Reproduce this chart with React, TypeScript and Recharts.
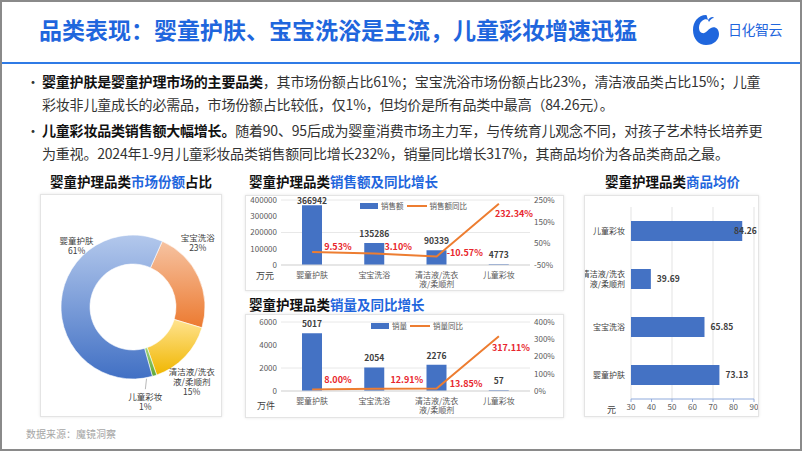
import React from "react";
import {
  PieChart,
  Pie,
  Cell,
  ComposedChart,
  BarChart,
  Bar,
  Line,
  XAxis,
  YAxis,
  CartesianGrid,
  LabelList,
} from "recharts";

// ---- data ----
const categories = ["婴童护肤", "宝宝洗浴", "清洁液/洗衣\n液/柔顺剂", "儿童彩妆"];
const shareValues = [61, 23, 15, 1];
const salesValues = [366942, 135286, 90339, 4773];
const salesYoY = [9.53, 3.1, -10.57, 232.34];
const volumeValues = [5017, 2054, 2276, 57];
const volumeYoY = [8.0, 12.91, 13.85, 317.11];
const avgPrice = [73.13, 65.85, 39.69, 84.26];

const salesTicks = [0, 100000, 200000, 300000, 400000];
const salesYoYTicks = [-50, 0, 50, 100, 150, 200, 250];
const volumeTicks = [0, 2000, 4000, 6000];
const volumeYoYTicks = [0, 100, 200, 300, 400];
const priceTicks = [30, 40, 50, 60, 70, 80, 90];

// pie is drawn clockwise starting from 宝宝洗浴 (like the Excel original)
const pieOrder = [1, 2, 3, 0];
const pieData = pieOrder.map((i) => ({ name: categories[i], value: shareValues[i] }));
const salesData = categories.map((name, i) => ({ name, value: salesValues[i], yoy: salesYoY[i] }));
const volumeData = categories.map((name, i) => ({ name, value: volumeValues[i], yoy: volumeYoY[i] }));
const priceData = categories.map((name, i) => ({ name, value: avgPrice[i] }));

const FONT = '"Noto Sans CJK SC", "Noto Sans", sans-serif';
const BLUE = "#4472c4";
const ORANGE = "#ed7d31";
const TITLE_BLUE = "#1f66dd";
const RED = "#e8262d";

const pieGrad = [
  ["#f6c3a2", "#ec7a30"],
  ["#ffe38f", "#f0b600"],
  ["#9fd37a", "#5fa838"],
  ["#b3c8ec", "#4170c4"],
];
// label angle nudge / extra radius per slice (pie order)
const pieLabelNudge = [20, -8, -10, -43];
const pieLabelExtra = [19, 23, 24, 11];

const renderPieLabel = (p: any) => {
  const { cx, cy, midAngle, outerRadius, index, name, value } = p;
  const a = ((midAngle + pieLabelNudge[index]) * Math.PI) / 180;
  const r = outerRadius + pieLabelExtra[index];
  const x = cx + r * Math.cos(a);
  const y = cy - r * Math.sin(a);
  const lines = [...String(name).split("\n"), `${value}%`];
  const top = y - ((lines.length - 1) * 10) / 2;
  const m = (midAngle * Math.PI) / 180;
  return (
    <g>
      {index === 2 && (
        <line
          x1={cx + outerRadius * Math.cos(m) - 8}
          y1={cy - outerRadius * Math.sin(m) + 3}
          x2={x}
          y2={top - 8}
          stroke="#a6a6a6"
          strokeWidth={0.8}
        />
      )}
      <text x={x} y={top + 3} textAnchor="middle" fontSize={8.5} fill="#404040" fontFamily={FONT}>
        {lines.map((l, i) => (
          <tspan key={i} x={x} dy={i ? 10 : 0}>
            {l}
          </tspan>
        ))}
      </text>
    </g>
  );
};

const CatTick = (p: any) => {
  const { x, y, payload } = p;
  const lines = String(payload.value).split("\n");
  return (
    <text x={x} y={y + 12.5} textAnchor="middle" fontSize={8} fill="#595959" fontFamily={FONT}>
      {lines.map((l, i) => (
        <tspan key={i} x={x} dy={i ? 9 : 0}>
          {l}
        </tspan>
      ))}
    </text>
  );
};

const SideCatTick = (p: any) => {
  const { x, y, payload } = p;
  const lines = String(payload.value).split("\n");
  const top = y - ((lines.length - 1) * 10) / 2 + 3;
  return (
    <text x={x} y={top} textAnchor="end" fontSize={8} fill="#404040" fontFamily={FONT}>
      {lines.map((l, i) => (
        <tspan key={i} x={x} dy={i ? 10 : 0}>
          {l}
        </tspan>
      ))}
    </text>
  );
};

// bar value above the bar, kept inside the chart at the top
const barValueLabel = (p: any) => {
  const { x, y, width, value } = p;
  const cy = Math.max(y - 9, 4.5);
  return (
    <text x={x + width / 2} y={cy + 3} textAnchor="middle" fontSize={8.5} fontWeight="bold" fill="#404040" fontFamily={FONT}>
      {value}
    </text>
  );
};

const yoyLabel = (offs: number[][]) => (p: any) => {
  const { x, y, value, index } = p;
  const o = offs[index];
  return (
    <text x={x + o[0]} y={y + o[1] + 3} fontSize={9} fontWeight="bold" fill={RED} fontFamily={FONT}>
      {Number(value).toFixed(2)}%
    </text>
  );
};

const priceLabel = (p: any) => {
  const { x, y, width, height, value } = p;
  const txt = Number(value).toFixed(2);
  const w = 22;
  const tx = Math.min(x + width + 6, 171 - w);
  return (
    <text x={tx} y={y + height / 2 + 3} fontSize={8.5} fontWeight="bold" fill="#404040" fontFamily={FONT}>
      {txt}
    </text>
  );
};

const LegendBox = ({ barName, lineName, left, top }: any) => (
  <div
    style={{
      position: "absolute",
      left,
      top,
      display: "flex",
      alignItems: "center",
      fontSize: 7.5,
      lineHeight: "10px",
      color: "#595959",
      whiteSpace: "nowrap",
    }}
  >
    <span style={{ display: "inline-block", width: 18, height: 6, background: BLUE, marginRight: 3 }} />
    {barName}
    <span style={{ display: "inline-block", width: 20, height: 2, background: ORANGE, margin: "0 3px 0 3px" }} />
    {lineName}
  </div>
);

const frame: React.CSSProperties = {
  position: "absolute",
  background: "#fff",
  border: "1px solid #e4e4e4",
  boxShadow: "0 0 3px rgba(0,0,0,0.10)",
  boxSizing: "border-box",
};

const ChartTitle = ({ x, y, pre, hi, post }: any) => (
  <div
    style={{
      position: "absolute",
      left: x,
      top: y,
      fontSize: 13.5,
      fontWeight: "bold",
      color: "#111",
      whiteSpace: "nowrap",
      lineHeight: "18px",
    }}
  >
    {pre}
    <span style={{ color: TITLE_BLUE }}>{hi}</span>
    {post}
  </div>
);

const axisTick = { fontSize: 8, fill: "#595959", fontFamily: FONT };
const svgVisible = { overflow: "visible" } as React.CSSProperties;

export default function App() {
  return (
    <div
      style={{
        position: "fixed",
        left: 0,
        top: 0,
        width: 802,
        height: 451,
        background: "#fff",
        border: "2px solid #8a8a8a",
        boxSizing: "border-box",
        fontFamily: FONT,
        overflow: "hidden",
      }}
    >
      {/* header */}
      <div
        style={{
          position: "absolute",
          left: 37,
          top: 12,
          fontSize: 23,
          fontWeight: "bold",
          color: TITLE_BLUE,
          whiteSpace: "nowrap",
          lineHeight: "30px",
        }}
      >
        品类表现：婴童护肤、宝宝洗浴是主流，儿童彩妆增速迅猛
      </div>
      <svg style={{ position: "absolute", left: 688, top: 10 }} width={32} height={36} viewBox="0 0 32 36">
        <path d="M16 3 C8 3 3 10 3 18 C3 27 9 33 16 33 C24 33 29 28 29 22 C29 17 25 14 21 16 C17 18 16 22 12 21 C8 20 8 12 12 9 C14 7 17 7 18 8 C17 5 17 3 16 3 Z" fill="#1f66dd" />
        <path d="M18 8 C20 5 23 4 24 6 C22 6 20 8 19 10 Z" fill="#1f66dd" />
      </svg>
      <div
        style={{
          position: "absolute",
          left: 726,
          top: 17,
          fontSize: 14,
          color: TITLE_BLUE,
          whiteSpace: "nowrap",
          lineHeight: "20px",
          letterSpacing: -0.5,
        }}
      >
        日化智云
      </div>
      <div style={{ position: "absolute", left: 0, top: 60, width: 800, height: 2, background: "#2f7be6" }} />

      {/* bullets */}
      <div
        style={{
          position: "absolute",
          left: 24,
          top: 68,
          fontSize: 14,
          color: "#333",
          lineHeight: "23px",
          whiteSpace: "nowrap",
          letterSpacing: -0.2,
        }}
      >
        <div>
          <span style={{ display: "inline-block", width: 16 }}>•</span>
          <b style={{ color: "#111" }}>婴童护肤是婴童护理市场的主要品类</b>，其市场份额占比61%；宝宝洗浴市场份额占比23%，清洁液品类占比15%；儿童
        </div>
        <div style={{ paddingLeft: 16 }}>彩妆非儿童成长的必需品，市场份额占比较低，仅1%，但均价是所有品类中最高（84.26元）。</div>
        <div style={{ marginTop: 3 }}>
          <span style={{ display: "inline-block", width: 16 }}>•</span>
          <b style={{ color: "#111" }}>儿童彩妆品类销售额大幅增长。</b>随着90、95后成为婴童消费市场主力军，与传统育儿观念不同，对孩子艺术特长培养更
        </div>
        <div style={{ paddingLeft: 16 }}>为重视。2024年1-9月儿童彩妆品类销售额同比增长232%，销量同比增长317%，其商品均价为各品类商品之最。</div>
      </div>

      {/* pie */}
      <ChartTitle x={48} y={170} pre="婴童护理品类" hi="市场份额" post="占比" />
      <div style={{ ...frame, left: 38, top: 192, width: 182, height: 223 }}>
        <PieChart width={180} height={221} margin={{ top: 0, right: 0, bottom: 0, left: 0 }}>
          <defs>
            {pieGrad.map((g, i) => (
              <linearGradient key={i} id={`pg${i}`} x1="0" y1="0" x2="0" y2="1">
                <stop offset="0%" stopColor={g[0]} />
                <stop offset="100%" stopColor={g[1]} />
              </linearGradient>
            ))}
          </defs>
          <Pie
            data={pieData}
            dataKey="value"
            nameKey="name"
            cx={92}
            cy={112}
            innerRadius={43}
            outerRadius={72}
            startAngle={66}
            endAngle={-294}
            stroke="#ffffff"
            strokeWidth={0.6}
            label={renderPieLabel}
            labelLine={false}
            isAnimationActive={false}
          >
            {pieData.map((_, i) => (
              <Cell key={i} fill={`url(#pg${i})`} />
            ))}
          </Pie>
        </PieChart>
      </div>

      {/* sales */}
      <ChartTitle x={247} y={170} pre="婴童护理品类" hi="销售额及同比增长" post="" />
      <div style={{ ...frame, left: 243, top: 193, width: 319, height: 96 }}>
        <ComposedChart style={svgVisible} width={317} height={94} data={salesData} margin={{ top: 4, right: 0, bottom: 0, left: 0 }} barSize={20}>
          <CartesianGrid vertical={false} stroke="#e8e8e8" yAxisId="left" />
          <XAxis dataKey="name" interval={0} tick={<CatTick />} tickLine={false} tickSize={0} tickMargin={0} axisLine={{ stroke: "#d9d9d9" }} height={25} />
          <YAxis yAxisId="left" domain={[0, 400000]} allowDataOverflow ticks={salesTicks} width={35} tick={axisTick} tickLine={false} axisLine={false} tickSize={2} tickMargin={2} />
          <YAxis yAxisId="right" orientation="right" domain={[-50, 250]} allowDataOverflow ticks={salesYoYTicks} tickFormatter={(v) => `${v}%`} width={33} tick={axisTick} tickLine={false} axisLine={false} tickSize={2} tickMargin={2} />
          <Bar yAxisId="left" dataKey="value" fill={BLUE} isAnimationActive={false}>
            <LabelList dataKey="value" content={barValueLabel} />
          </Bar>
          <Line yAxisId="right" type="linear" dataKey="yoy" stroke={ORANGE} strokeWidth={2} dot={false} isAnimationActive={false}>
            <LabelList dataKey="yoy" content={yoyLabel([[12, -5], [10, -6], [10, -3], [-4, 10]])} />
          </Line>
        </ComposedChart>
        <LegendBox barName="销售额" lineName="销售额同比" left={114} top={5} />
        <div style={{ position: "absolute", left: 10, top: 74, fontSize: 9, lineHeight: "12px", color: "#404040" }}>万元</div>
      </div>

      {/* volume */}
      <ChartTitle x={247} y={293} pre="婴童护理品类" hi="销量及同比增长" post="" />
      <div style={{ ...frame, left: 243, top: 312, width: 319, height: 104 }}>
        <ComposedChart style={svgVisible} width={317} height={102} data={volumeData} margin={{ top: 7, right: 0, bottom: 0, left: 0 }} barSize={20}>
          <CartesianGrid vertical={false} stroke="#e8e8e8" yAxisId="left" />
          <XAxis dataKey="name" interval={0} tick={<CatTick />} tickLine={false} tickSize={0} tickMargin={0} axisLine={{ stroke: "#d9d9d9" }} height={26} />
          <YAxis yAxisId="left" domain={[0, 6000]} allowDataOverflow ticks={volumeTicks} width={35} tick={axisTick} tickLine={false} axisLine={false} tickSize={2} tickMargin={2} />
          <YAxis yAxisId="right" orientation="right" domain={[0, 400]} allowDataOverflow ticks={volumeYoYTicks} tickFormatter={(v) => `${v}%`} width={33} tick={axisTick} tickLine={false} axisLine={false} tickSize={2} tickMargin={2} />
          <Bar yAxisId="left" dataKey="value" fill={BLUE} isAnimationActive={false}>
            <LabelList dataKey="value" content={barValueLabel} />
          </Bar>
          <Line yAxisId="right" type="linear" dataKey="yoy" stroke={ORANGE} strokeWidth={2} dot={false} isAnimationActive={false}>
            <LabelList dataKey="yoy" content={yoyLabel([[12, -10], [16, -9], [13, -5], [-7, 12]])} />
          </Line>
        </ComposedChart>
        <LegendBox barName="销量" lineName="销量同比" left={125} top={6} />
        <div style={{ position: "absolute", left: 11, top: 85, fontSize: 9, lineHeight: "12px", color: "#404040" }}>万件</div>
      </div>

      {/* avg price */}
      <ChartTitle x={603} y={170} pre="婴童护理品类" hi="商品均价" post="" />
      <div style={{ ...frame, left: 582, top: 193, width: 175, height: 222 }}>
        <BarChart layout="vertical" width={173} height={220} data={priceData} margin={{ top: 11, right: 4, bottom: 0, left: 0 }} barSize={20}>
          <CartesianGrid horizontal={false} stroke="#e3e3e3" />
          <XAxis type="number" domain={[30, 90]} allowDataOverflow ticks={priceTicks} height={17} tick={axisTick} tickLine={{ stroke: "#8faadc" }} axisLine={{ stroke: "#8faadc" }} tickSize={3} tickMargin={2} />
          <YAxis type="category" dataKey="name" reversed width={46} tick={<SideCatTick />} tickLine={false} axisLine={false} tickSize={2} tickMargin={4} />
          <Bar dataKey="value" fill={BLUE} isAnimationActive={false}>
            <LabelList dataKey="value" content={priceLabel} />
          </Bar>
        </BarChart>
        <div style={{ position: "absolute", left: 22, top: 208, fontSize: 9, lineHeight: "12px", color: "#404040" }}>元</div>
      </div>

      <div style={{ position: "absolute", left: 24, top: 424, fontSize: 10, color: "#a6a6a6", whiteSpace: "nowrap" }}>
        数据来源：魔镜洞察
      </div>
    </div>
  );
}
